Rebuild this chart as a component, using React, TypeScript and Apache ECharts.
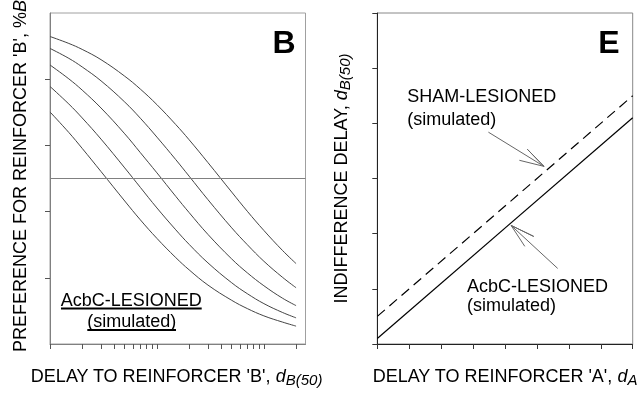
import React, { useEffect, useRef } from "react";
import * as echarts from "echarts";

// Panel B: preference for reinforcer B vs. delay to B (log axis), five curves
const delayB = [1, 1.5, 2, 3, 5, 7, 10, 15, 20, 30, 50, 70, 100, 150, 200];
const prefB1 = [92.9, 90.8, 89.0, 85.9, 80.9, 77.0, 72.3, 66.3, 61.7, 54.8, 45.9, 40.1, 34.3, 28.2, 24.3];
const prefB2 = [89.3, 86.3, 83.7, 79.5, 73.1, 68.2, 62.5, 55.7, 50.7, 43.6, 35.1, 30.0, 25.0, 20.1, 17.0];
const prefB3 = [84.3, 80.1, 76.7, 71.3, 63.5, 57.8, 51.7, 44.6, 39.7, 33.1, 25.7, 21.5, 17.6, 13.8, 11.6];
const prefB4 = [77.8, 72.5, 68.3, 61.9, 53.2, 47.3, 41.1, 34.5, 30.1, 24.5, 18.5, 15.2, 12.2, 9.5, 7.9];
const prefB5 = [70.1, 63.9, 59.1, 52.1, 43.2, 37.5, 31.9, 26.1, 22.4, 17.8, 13.2, 10.7, 8.5, 6.6, 5.4];
const prefCurves = [prefB1, prefB2, prefB3, prefB4, prefB5];
const indifferencePct = 50;
const delayBTicks = [1, 2, 3, 4, 5, 6, 7, 8, 9, 10, 20, 30, 40, 50, 60, 70, 80, 90, 100, 200];
const prefTicks = [20, 40, 60, 80];

// Panel E: indifference delay vs. delay to A
const delayA = [0, 8];
const shamIndiff = [0.5, 4.5];
const acbcIndiff = [0.1, 4.1];
// annotation arrows: tail, tip, barb, tip, barb
const shamArrow = [[3.48, 3.84], [5.22, 3.22], [4.7, 3.53], [5.22, 3.22], [4.45, 3.33]];
const acbcArrow = [[5.65, 1.37], [4.19, 2.15], [4.9, 1.95], [4.19, 2.15], [4.62, 1.77]];

const FONT = "'Liberation Sans', Arial, sans-serif";

const titleRich = {
  m: { fontSize: 18, fontFamily: FONT, color: "#000" },
  i: { fontSize: 18, fontFamily: FONT, fontStyle: "italic", color: "#000" },
  s: { fontSize: 15, fontFamily: FONT, fontStyle: "italic", color: "#000", padding: [7, 0, 0, 0] },
};

export default function App() {
  const ref = useRef<HTMLDivElement>(null);

  useEffect(() => {
    if (!ref.current) return;
    const chart = echarts.init(ref.current, null, { renderer: "svg" });

    const curveSeries = prefCurves.map((vals, k) => ({
      type: "line",
      xAxisIndex: 0,
      yAxisIndex: 0,
      data: delayB.map((x, i) => [x, vals[i]]),
      smooth: 0.4,
      symbol: "none",
      silent: true,
      lineStyle: { color: "#444", width: 1 },
      markLine:
        k === 0
          ? {
              silent: true,
              symbol: "none",
              label: { show: false },
              lineStyle: { color: "#808080", width: 1, type: "solid" },
              data: [{ yAxis: indifferencePct }],
            }
          : undefined,
    }));

    const arrowSeries = [shamArrow, acbcArrow].map((pts) => ({
      type: "line",
      xAxisIndex: 1,
      yAxisIndex: 1,
      data: pts,
      symbol: "none",
      silent: true,
      lineStyle: { color: "#666", width: 1 },
    }));

    chart.setOption({
      animation: false,
      textStyle: { fontFamily: FONT },
      grid: [
        { left: 50, top: 13, width: 255.5, height: 331, show: true, borderColor: "#a0a0a0", borderWidth: 1, backgroundColor: "transparent" },
        { left: 377.3, top: 13, width: 255.4, height: 331, show: true, borderColor: "#888", borderWidth: 1, backgroundColor: "transparent" },
      ],
      xAxis: [
        {
          type: "log",
          gridIndex: 0,
          logBase: 10,
          min: 1,
          max: 245,
          axisLine: { show: true, lineStyle: { color: "#808080", width: 1 } },
          axisTick: { show: true, customValues: delayBTicks, length: 5, inside: false, lineStyle: { color: "#555" } },
          axisLabel: { show: false },
          splitLine: { show: false },
        },
        {
          type: "value",
          gridIndex: 1,
          min: 0,
          max: 8,
          interval: 1,
          axisLine: { show: true, lineStyle: { color: "#222", width: 1 } },
          axisTick: { show: true, length: 5, inside: false, lineStyle: { color: "#333" } },
          axisLabel: { show: false },
          splitLine: { show: false },
        },
      ],
      yAxis: [
        {
          type: "value",
          gridIndex: 0,
          min: 0,
          max: 100,
          interval: 20,
          axisLine: { show: true, lineStyle: { color: "#808080", width: 1 } },
          axisTick: { show: true, customValues: prefTicks, length: 5, inside: false, lineStyle: { color: "#555" } },
          axisLabel: { show: false },
          splitLine: { show: false },
        },
        {
          type: "value",
          gridIndex: 1,
          min: 0,
          max: 6,
          interval: 1,
          axisLine: { show: true, lineStyle: { color: "#222", width: 1 } },
          axisTick: { show: true, length: 5, inside: false, lineStyle: { color: "#333" } },
          axisLabel: { show: false },
          splitLine: { show: false },
        },
      ],
      series: [
        ...curveSeries,
        {
          type: "line",
          xAxisIndex: 1,
          yAxisIndex: 1,
          data: delayA.map((x, i) => [x, shamIndiff[i]]),
          symbol: "none",
          silent: true,
          lineStyle: { color: "#000", width: 1.2, type: [10, 6] },
        },
        {
          type: "line",
          xAxisIndex: 1,
          yAxisIndex: 1,
          data: delayA.map((x, i) => [x, acbcIndiff[i]]),
          symbol: "none",
          silent: true,
          lineStyle: { color: "#000", width: 1.2 },
        },
        ...arrowSeries,
      ],
      graphic: [
        // panel letters
        { type: "text", x: 284, y: 42, style: { text: "B", fontSize: 32, fontWeight: "bold", fontFamily: FONT, fill: "#000", align: "center", verticalAlign: "middle" } },
        { type: "text", x: 609, y: 42, style: { text: "E", fontSize: 32, fontWeight: "bold", fontFamily: FONT, fill: "#000", align: "center", verticalAlign: "middle" } },
        // axis titles
        { type: "text", x: 176.5, y: 376, style: { text: "{m|DELAY TO REINFORCER 'B', }{i|d}{s|B(50)}", rich: titleRich, align: "center", verticalAlign: "middle" } },
        { type: "text", x: 505, y: 376, style: { text: "{m|DELAY TO REINFORCER 'A', }{i|d}{s|A}", rich: titleRich, align: "center", verticalAlign: "middle" } },
        { type: "text", x: 20, y: 176, rotation: Math.PI / 2, style: { text: "{m|PREFERENCE FOR REINFORCER 'B', %}{i|B}", rich: titleRich, align: "center", verticalAlign: "middle" } },
        { type: "text", x: 340.5, y: 178.5, rotation: Math.PI / 2, style: { text: "{m|INDIFFERENCE DELAY, }{i|d}{s|B(50)}", rich: titleRich, align: "center", verticalAlign: "middle" } },
        // panel B annotation
        { type: "text", x: 131.3, y: 300, style: { text: "AcbC-LESIONED", fontSize: 18, fontFamily: FONT, fill: "#000", align: "center", verticalAlign: "middle" } },
        { type: "text", x: 131.7, y: 321, style: { text: "(simulated)", fontSize: 18, fontFamily: FONT, fill: "#000", align: "center", verticalAlign: "middle" } },
        { type: "line", shape: { x1: 61, y1: 308.5, x2: 201.7, y2: 308.5 }, style: { stroke: "#000", lineWidth: 2 } },
        { type: "line", shape: { x1: 87.3, y1: 330, x2: 176, y2: 330 }, style: { stroke: "#000", lineWidth: 2 } },
        // panel E annotations
        { type: "text", x: 407.3, y: 96, style: { text: "SHAM-LESIONED", fontSize: 18, fontFamily: FONT, fill: "#000", align: "left", verticalAlign: "middle" } },
        { type: "text", x: 407.3, y: 119, style: { text: "(simulated)", fontSize: 18, fontFamily: FONT, fill: "#000", align: "left", verticalAlign: "middle" } },
        { type: "text", x: 467, y: 286, style: { text: "AcbC-LESIONED", fontSize: 18, fontFamily: FONT, fill: "#000", align: "left", verticalAlign: "middle" } },
        { type: "text", x: 467, y: 305, style: { text: "(simulated)", fontSize: 18, fontFamily: FONT, fill: "#000", align: "left", verticalAlign: "middle" } },
      ],
    });

    return () => chart.dispose();
  }, []);

  return <div ref={ref} style={{ position: "fixed", left: 0, top: 0, width: 641, height: 396 }} />;
}
